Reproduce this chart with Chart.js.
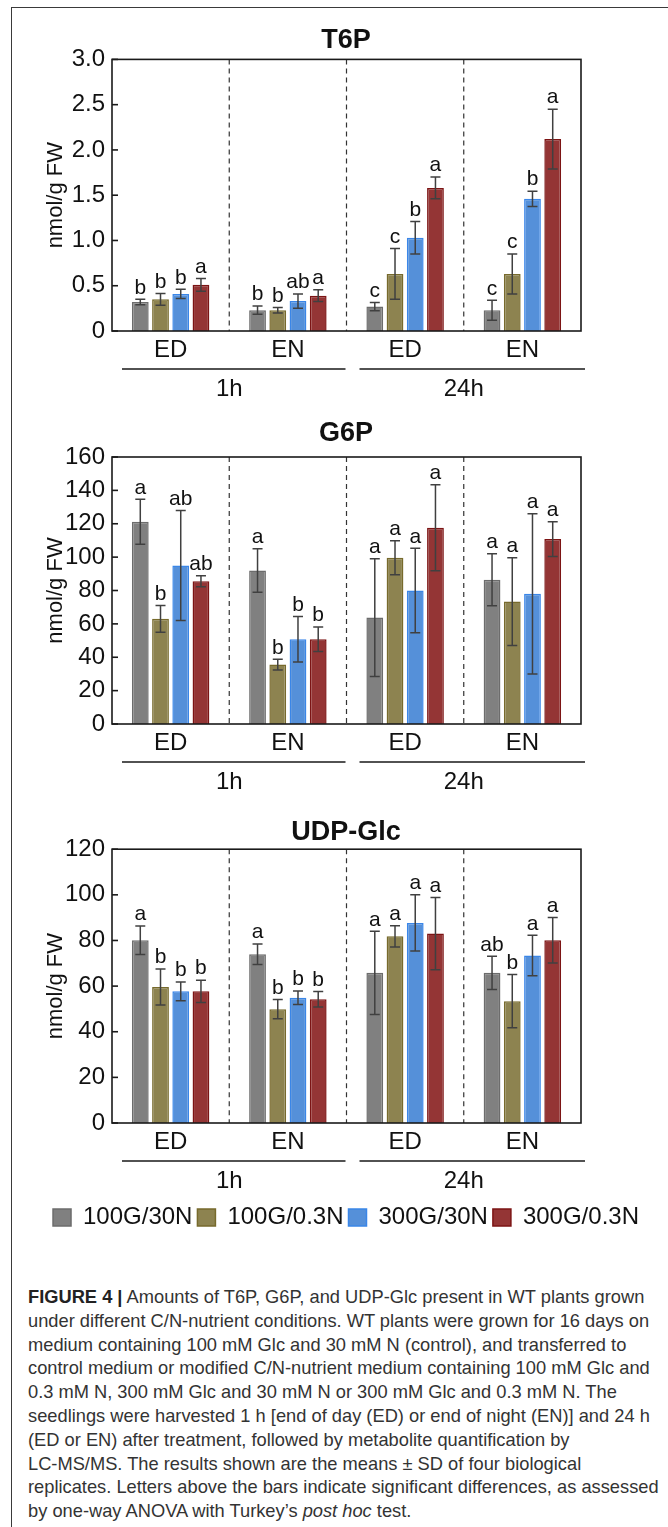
<!DOCTYPE html>
<html>
<head>
<meta charset="utf-8">
<script src="https://cdn.jsdelivr.net/npm/chart.js@4.4.1/dist/chart.umd.min.js"></script>
<style>
  body { margin: 0; background: #fff; }
  #fig { position: relative; width: 668px; height: 1527px; overflow: hidden; background: #fff; }
  #frame { position: absolute; left: 11px; top: 7px; width: 700px; height: 1600px;
           border-left: 1.5px solid #3a3a3a; border-top: 1.5px solid #3a3a3a; }
  canvas { position: absolute; left: 0; }
  #c1 { top: 0; }
  #c2 { top: 410px; }
  #c3 { top: 802px; }
  #caption { position: absolute; left: 28px; top: 1285px; width: 660px;
             font-family: 'Liberation Sans', Arial, sans-serif;
             font-size: 19px; line-height: 23.8px; color: #333; white-space: nowrap;
             transform: scaleX(0.962); transform-origin: 0 0; }
  #caption b { color: #222; }
</style>
</head>
<body>
<div id="fig">
  <div id="frame"></div>
  <canvas id="c1" width="668" height="410"></canvas>
  <canvas id="c2" width="668" height="392"></canvas>
  <canvas id="c3" width="668" height="438"></canvas>
  <div id="caption">
    <b>FIGURE 4 |</b> Amounts of T6P, G6P, and UDP-Glc present in WT plants grown<br>
    under different C/N-nutrient conditions. WT plants were grown for 16 days on<br>
    medium containing 100 mM Glc and 30 mM N (control), and transferred to<br>
    control medium or modified C/N-nutrient medium containing 100 mM Glc and<br>
    0.3 mM N, 300 mM Glc and 30 mM N or 300 mM Glc and 0.3 mM N. The<br>
    seedlings were harvested 1 h [end of day (ED) or end of night (EN)] and 24 h<br>
    (ED or EN) after treatment, followed by metabolite quantification by<br>
    LC-MS/MS. The results shown are the means &plusmn; SD of four biological<br>
    replicates. Letters above the bars indicate significant differences, as assessed<br>
    by one-way ANOVA with Turkey&rsquo;s <i>post hoc</i> test.
  </div>
</div>
<script>
Chart.defaults.font.family = "'Liberation Sans', Arial, Helvetica, sans-serif";
Chart.defaults.color = '#111';

// categories: harvest point within each time after transfer
const groups = ['ED', 'EN', 'ED', 'EN'];
const times = ['1h', '24h'];
const treatments = ['100G/30N', '100G/0.3N', '300G/30N', '300G/0.3N'];

// rows follow treatments, columns follow groups (ED 1h, EN 1h, ED 24h, EN 24h)
const t6pMean = [
  [0.32, 0.23, 0.27, 0.23],
  [0.35, 0.23, 0.63, 0.63],
  [0.41, 0.33, 1.03, 1.46],
  [0.51, 0.39, 1.58, 2.12]
];
const t6pSD = [
  [0.03, 0.045, 0.045, 0.11],
  [0.065, 0.03, 0.28, 0.22],
  [0.05, 0.08, 0.18, 0.085],
  [0.07, 0.065, 0.12, 0.33]
];
const t6pLetters = [
  ['b', 'b', 'c', 'c'],
  ['b', 'b', 'c', 'c'],
  ['b', 'ab', 'b', 'b'],
  ['a', 'a', 'a', 'a']
];
const t6pTicks = [0, 0.5, 1.0, 1.5, 2.0, 2.5, 3.0];

const g6pMean = [
  [121.2, 92, 63.8, 86.4],
  [63, 35.6, 99.6, 73.4],
  [95, 50.8, 80, 78],
  [85.6, 50.8, 117.6, 110.8]
];
const g6pSD = [
  [13.5, 13, 35.3, 15.6],
  [8, 3.2, 10.2, 26.3],
  [33, 13.6, 25.3, 48],
  [3.3, 7.4, 25.8, 10.4]
];
const g6pLetters = [
  ['a', 'a', 'a', 'a'],
  ['b', 'b', 'a', 'a'],
  ['ab', 'b', 'a', 'a'],
  ['ab', 'b', 'a', 'a']
];
const g6pTicks = [0, 20, 40, 60, 80, 100, 120, 140, 160];

const udpMean = [
  [80.1, 74, 65.8, 65.8],
  [59.6, 49.9, 81.8, 53.4],
  [57.7, 54.9, 87.7, 73.4],
  [57.7, 54.2, 83, 80.1]
];
const udpSD = [
  [6.2, 4.5, 18.2, 7.3],
  [7.9, 4.2, 4.7, 11.7],
  [4.1, 3, 12.3, 8.9],
  [4.9, 3.4, 15.8, 10]
];
const udpLetters = [
  ['a', 'a', 'a', 'ab'],
  ['b', 'b', 'a', 'b'],
  ['b', 'b', 'a', 'a'],
  ['b', 'b', 'a', 'a']
];
const udpTicks = [0, 20, 40, 60, 80, 100, 120];

const fills = ['#808080', '#8d8350', '#5590d9', '#943535'];
const borders = ['#6c6c6c', '#776a2c', '#3a86e8', '#7c1414'];

// box, dashed separators, inner ticks, error bars, letters and the 1h/24h underlines
const panelDecor = {
  id: 'panelDecor',
  afterDraw(chart) {
    const ctx = chart.ctx;
    const {left, right, top, bottom} = chart.chartArea;
    const x = chart.scales.x, y = chart.scales.y;
    ctx.save();

    ctx.strokeStyle = '#333';
    ctx.lineWidth = 1.2;
    ctx.setLineDash([5, 4]);
    for (let i = 0; i < groups.length - 1; i++) {
      const xs = (x.getPixelForValue(i) + x.getPixelForValue(i + 1)) / 2;
      ctx.beginPath(); ctx.moveTo(xs, top); ctx.lineTo(xs, bottom); ctx.stroke();
    }
    ctx.setLineDash([]);

    ctx.strokeStyle = '#1a1a1a';
    ctx.lineWidth = 1.6;
    ctx.strokeRect(left, top, right - left, bottom - top);
    y.ticks.forEach(t => {
      const py = y.getPixelForValue(t.value);
      ctx.beginPath(); ctx.moveTo(left, py); ctx.lineTo(left + 6, py); ctx.stroke();
    });

    chart.data.datasets.forEach((ds, di) => {
      chart.getDatasetMeta(di).data.forEach((bar, i) => {
        const m = ds.data[i], sd = ds.sd[i];
        const yHi = y.getPixelForValue(m + sd), yLo = y.getPixelForValue(m - sd);
        ctx.strokeStyle = '#404040';
        ctx.lineWidth = 1.5;
        ctx.beginPath();
        ctx.moveTo(bar.x, yHi); ctx.lineTo(bar.x, yLo);
        ctx.moveTo(bar.x - 5, yHi); ctx.lineTo(bar.x + 5, yHi);
        ctx.moveTo(bar.x - 5, yLo); ctx.lineTo(bar.x + 5, yLo);
        ctx.stroke();
        ctx.fillStyle = '#111';
        ctx.font = "21px 'Liberation Sans', Arial, sans-serif";
        ctx.textAlign = 'center';
        ctx.textBaseline = 'bottom';
        ctx.fillText(ds.letters[i], bar.x, yHi - 1);
      });
    });

    const mid = (x.getPixelForValue(1) + x.getPixelForValue(2)) / 2;
    const ly = bottom + 38;
    ctx.strokeStyle = '#1a1a1a';
    ctx.lineWidth = 1.5;
    ctx.beginPath();
    ctx.moveTo(left + 10, ly); ctx.lineTo(mid - 1, ly);
    ctx.moveTo(mid + 13, ly); ctx.lineTo(right + 4, ly);
    ctx.stroke();
    ctx.restore();
  }
};

function makePanel(id, name, means, sds, letters, ticks, fmt, titlePad, bottomPad, showLegend) {
  const datasets = treatments.map((t, k) => ({
    label: t,
    data: means[k],
    sd: sds[k],
    letters: letters[k],
    backgroundColor: fills[k],
    borderColor: borders[k],
    borderWidth: 1.5,
    categoryPercentage: 0.69,
    barPercentage: 0.83
  }));
  return new Chart(document.getElementById(id), {
    type: 'bar',
    data: { labels: groups, datasets: datasets },
    plugins: [panelDecor],
    options: {
      responsive: false,
      animation: false,
      layout: { padding: { left: 24, right: 0, top: 0, bottom: bottomPad } },
      plugins: {
        title: {
          display: true, text: name, color: '#111',
          font: { size: 27, weight: 'bold' },
          padding: titlePad
        },
        legend: {
          display: showLegend,
          position: 'bottom',
          labels: {
            font: { size: 24 }, color: '#111',
            boxWidth: 18, boxHeight: 17, padding: 5
          }
        },
        tooltip: { enabled: false }
      },
      scales: {
        x: {
          grid: { display: false, drawTicks: false },
          border: { display: false },
          ticks: { font: { size: 24 }, padding: 5, color: '#111' }
        },
        x2: {
          type: 'category',
          labels: times,
          position: 'bottom',
          weight: 1,
          offset: true,
          grid: { display: false, drawTicks: false },
          border: { display: false },
          ticks: { font: { size: 24 }, padding: 5, color: '#111' }
        },
        y: {
          min: ticks[0],
          max: ticks[ticks.length - 1],
          afterBuildTicks: s => { s.ticks = ticks.map(v => ({ value: v })); },
          afterFit: s => { s.width = 88; },
          grid: { display: false, drawTicks: false },
          border: { display: false },
          ticks: { font: { size: 24 }, padding: 7, color: '#111', callback: fmt },
          title: {
            display: true, text: 'nmol/g FW', color: '#111',
            font: { size: 22 }, padding: { top: 19, bottom: 0 }
          }
        },
        y2: {
          position: 'right',
          afterFit: s => { s.width = 87; },
          grid: { display: false, drawTicks: false },
          border: { display: false },
          ticks: { display: false }
        }
      }
    }
  });
}

const fmtT6P = v => (v === 0 ? '0' : v.toFixed(1));
const fmtInt = v => String(v);

makePanel('c1', 'T6P', t6pMean, t6pSD, t6pLetters, t6pTicks, fmtT6P, { top: 24, bottom: 3 }, 1.4, false);
makePanel('c2', 'G6P', g6pMean, g6pSD, g6pLetters, g6pTicks, fmtInt, { top: 7, bottom: 7.6 }, 0.4, false);
makePanel('c3', 'UDP-Glc', udpMean, udpSD, udpLetters, udpTicks, fmtInt, { top: 14.8, bottom: 0 }, 0.4, true);
</script>
</body>
</html>
